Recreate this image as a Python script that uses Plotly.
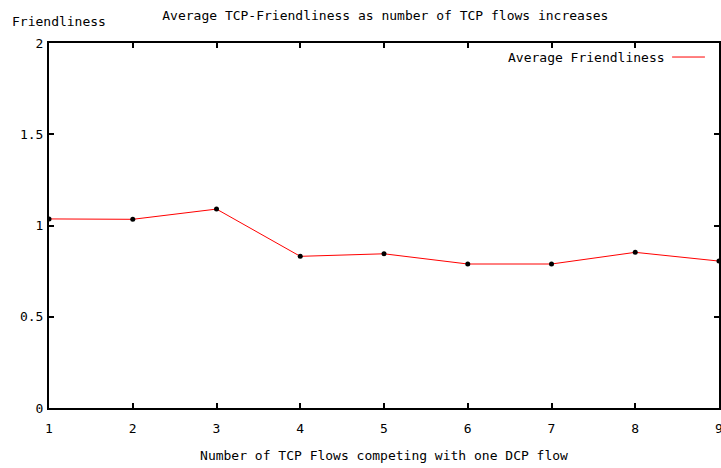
import plotly.graph_objects as go

tcp_flows = [1, 2, 3, 4, 5, 6, 7, 8, 9]
friendliness = [1.036, 1.034, 1.09, 0.831, 0.845, 0.789, 0.789, 0.853, 0.805]
y_ticks = [0, 0.5, 1, 1.5, 2]
y_tick_text = ["0", "0.5", "1", "1.5", "2"]

FONT = "DejaVu Sans Mono"

fig = go.Figure()
fig.add_trace(go.Scatter(
    x=tcp_flows, y=friendliness, mode="lines",
    line=dict(color="#ff0000", width=1),
    name="Average Friendliness", showlegend=False,
))
fig.add_trace(go.Scatter(
    x=tcp_flows, y=friendliness, mode="markers",
    marker=dict(color="black", size=5),
    showlegend=False,
))

fig.update_layout(
    width=723, height=468,
    margin=dict(l=49, r=0, t=43, b=60),
    paper_bgcolor="white", plot_bgcolor="white",
    font=dict(family=FONT, size=13, color="black"),
    title=dict(text="Average TCP-Friendliness as number of TCP flows increases",
               x=0.533, xanchor="center", y=0.968, yanchor="middle",
               font=dict(family=FONT, size=13, color="black")),
    xaxis=dict(range=[0.9999, 9.0001], tickvals=tcp_flows, ticks="inside", ticklen=5,
               tickwidth=2, tickcolor="black", ticklabeloverflow="allow",
               showline=True, linewidth=2, linecolor="black", mirror="ticks",
               showgrid=False, zeroline=False, ticklabelstandoff=7,
               title=dict(text="Number of TCP Flows competing with one DCP flow",
                          standoff=16, font=dict(family=FONT, size=13))),
    yaxis=dict(range=[0, 2], tickvals=y_ticks, ticktext=y_tick_text,
               ticks="inside", ticklen=5, tickwidth=2, tickcolor="black",
               showline=True, linewidth=2, linecolor="black", mirror="ticks",
               showgrid=False, zeroline=False, ticklabelstandoff=1),
    annotations=[
        dict(text="Friendliness", xref="paper", yref="paper", x=-0.058, y=1.058,
             xanchor="left", yanchor="middle", showarrow=False,
             font=dict(family=FONT, size=13)),
        dict(text="Average Friendliness", xref="paper", yref="paper", x=0.922, y=0.9616,
             xanchor="right", yanchor="middle", showarrow=False,
             font=dict(family=FONT, size=13)),
    ],
    shapes=[
        dict(type="line", xref="paper", yref="paper", x0=0.930, x1=0.979,
             y0=0.9616, y1=0.9616, line=dict(color="#ff0000", width=1)),
    ],
)

fig.write_html("out.html", config={"displayModeBar": False},
               post_script="document.body.style.margin='0';document.body.style.overflow='hidden';")
